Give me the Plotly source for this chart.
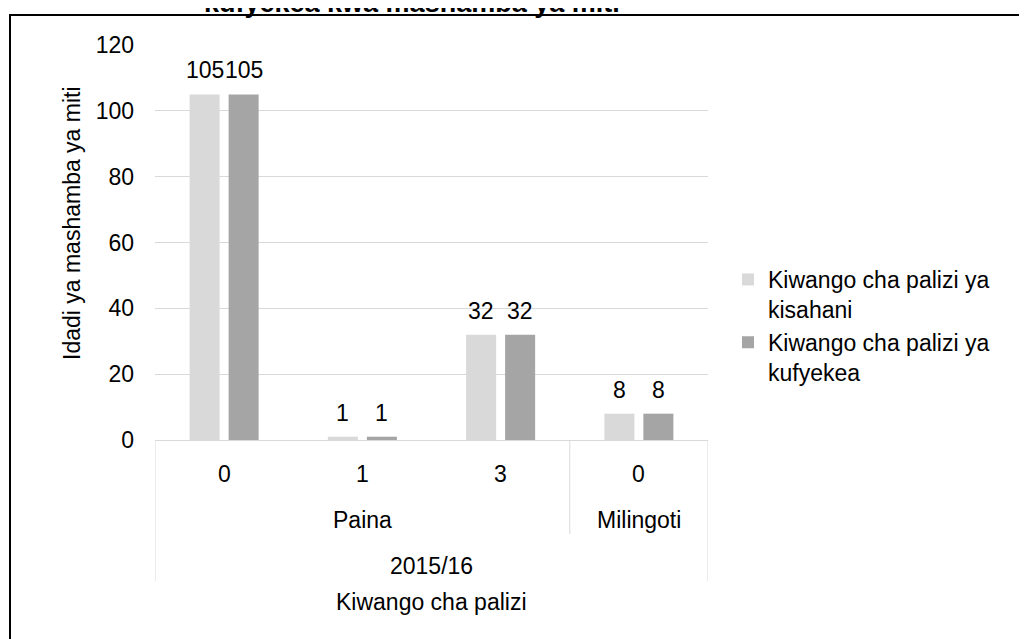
import plotly.graph_objects as go

# ---- data ----
year = "2015/16"
species = ["Paina", "Paina", "Paina", "Milingoti"]
tiers = ["0", "1", "3", "0"]
kisahani = [105, 1, 32, 8]
kufyekea = [105, 1, 32, 8]
series_names = ["Kiwango cha palizi ya<br>kisahani", "Kiwango cha palizi ya<br>kufyekea"]
series_colors = ["#D9D9D9", "#A5A5A5"]
y_title = "Idadi ya mashamba ya miti"
x_title = "Kiwango cha palizi"
title_tail = "kufyekea kwa mashamba ya miti"
yticks = [0, 20, 40, 60, 80, 100, 120]

# ---- layout geometry (page pixels; page body has an 8px margin) ----
PAGE_W, PAGE_H = 1027, 639
OFF = 8
PL, PR, PT, PB = 155, 708, 45, 440
W, H = PAGE_W - OFF, PAGE_H - OFF
PW, PH = PR - PL, PB - PT
FONT = "Arial, Liberation Sans, sans-serif"
FS = 23
BARGAP, GROUPGAP = 0.436, 0.23
GRID = "#D9D9D9"


def pyp(p):  # page pixel y -> paper y
    return (PB - p) / PH


def pxp(p):  # page pixel x -> paper x
    return (p - PL) / PW


xs = list(range(len(tiers)))
fig = go.Figure()
for name, vals, col in zip(series_names, [kisahani, kufyekea], series_colors):
    fig.add_trace(go.Bar(x=xs, y=vals, name=name, marker=dict(color=col, line=dict(width=0))))

annotations = []
# data labels
for j, vals in enumerate([kisahani, kufyekea]):
    off = (-1 if j == 0 else 1) * (1 - BARGAP) / 4
    for i, v in enumerate(vals):
        annotations.append(dict(x=i + off, y=v, xref="x", yref="y", text=str(v), showarrow=False,
                                yanchor="middle", yshift=24, font=dict(size=FS, color="#000000")))

# tier labels
for i, t in enumerate(tiers):
    annotations.append(dict(x=i, y=pyp(474), xref="x", yref="paper", text=t, showarrow=False,
                            yanchor="middle", font=dict(size=FS, color="#000000")))

# species group labels & dividers
groups = []
for i, s in enumerate(species):
    if not groups or groups[-1][0] != s:
        groups.append([s, i, i])
    else:
        groups[-1][2] = i
shapes = []
for s, a, b in groups:
    annotations.append(dict(x=(a + b) / 2, y=pyp(520), xref="x", yref="paper", text=s, showarrow=False,
                            yanchor="middle", font=dict(size=FS, color="#000000")))
    if a > 0:
        shapes.append(dict(type="line", xref="x", yref="paper", x0=a - 0.5, x1=a - 0.5,
                           y0=0, y1=pyp(534), line=dict(color=GRID, width=1)))
for xe in [-0.5, len(tiers) - 0.5]:
    shapes.append(dict(type="line", xref="x", yref="paper", x0=xe, x1=xe,
                       y0=0, y1=pyp(581), line=dict(color=GRID, width=1)))

# year label and x title
annotations.append(dict(x=(len(tiers) - 1) / 2, y=pyp(566), xref="x", yref="paper", text=year,
                        showarrow=False, yanchor="middle", font=dict(size=FS, color="#000000")))
annotations.append(dict(x=(len(tiers) - 1) / 2, y=pyp(602), xref="x", yref="paper", text=x_title,
                        showarrow=False, yanchor="middle", font=dict(size=FS, color="#000000")))
# y title
annotations.append(dict(x=pxp(72), y=pyp(223), xref="paper", yref="paper", text=y_title, textangle=-90,
                        showarrow=False, xanchor="center", yanchor="middle",
                        font=dict(size=FS, color="#000000")))
# cut-off chart title (last line)
annotations.append(dict(x=pxp(412), y=pyp(20), xref="paper", yref="paper", text="<b>" + title_tail + "</b>",
                        showarrow=False, xanchor="center", yanchor="bottom",
                        font=dict(size=27, color="#000000")))

# chart border
shapes.append(dict(type="rect", xref="paper", yref="paper", x0=pxp(10), x1=pxp(1045),
                   y0=pyp(660), y1=pyp(15), line=dict(color="#000000", width=2), layer="above"))

fig.update_layout(
    width=W, height=H,
    margin=dict(l=PL - OFF, r=PAGE_W - PR, t=PT - OFF, b=PAGE_H - PB, autoexpand=False),
    paper_bgcolor="white", plot_bgcolor="white",
    font=dict(family=FONT, size=FS, color="#000000"),
    barmode="group", bargap=BARGAP, bargroupgap=GROUPGAP,
    showlegend=True,
    legend=dict(x=pxp(728), y=pyp(258), xanchor="left", yanchor="top",
                font=dict(size=FS, color="#000000"), itemwidth=30,
                bgcolor="rgba(0,0,0,0)", traceorder="normal", valign="top"),
    xaxis=dict(range=[-0.5, len(tiers) - 0.5], showticklabels=False, showgrid=False,
               zeroline=False, showline=True, linecolor=GRID, linewidth=1, fixedrange=True),
    yaxis=dict(range=[0, 120], tickvals=yticks, showgrid=True, gridcolor=GRID, gridwidth=1,
               zeroline=False, showline=False, ticks="", ticklabelstandoff=20,
               tickfont=dict(size=FS, color="#000000"), fixedrange=True),
    annotations=annotations, shapes=shapes,
)

fig.write_html("out.html")
